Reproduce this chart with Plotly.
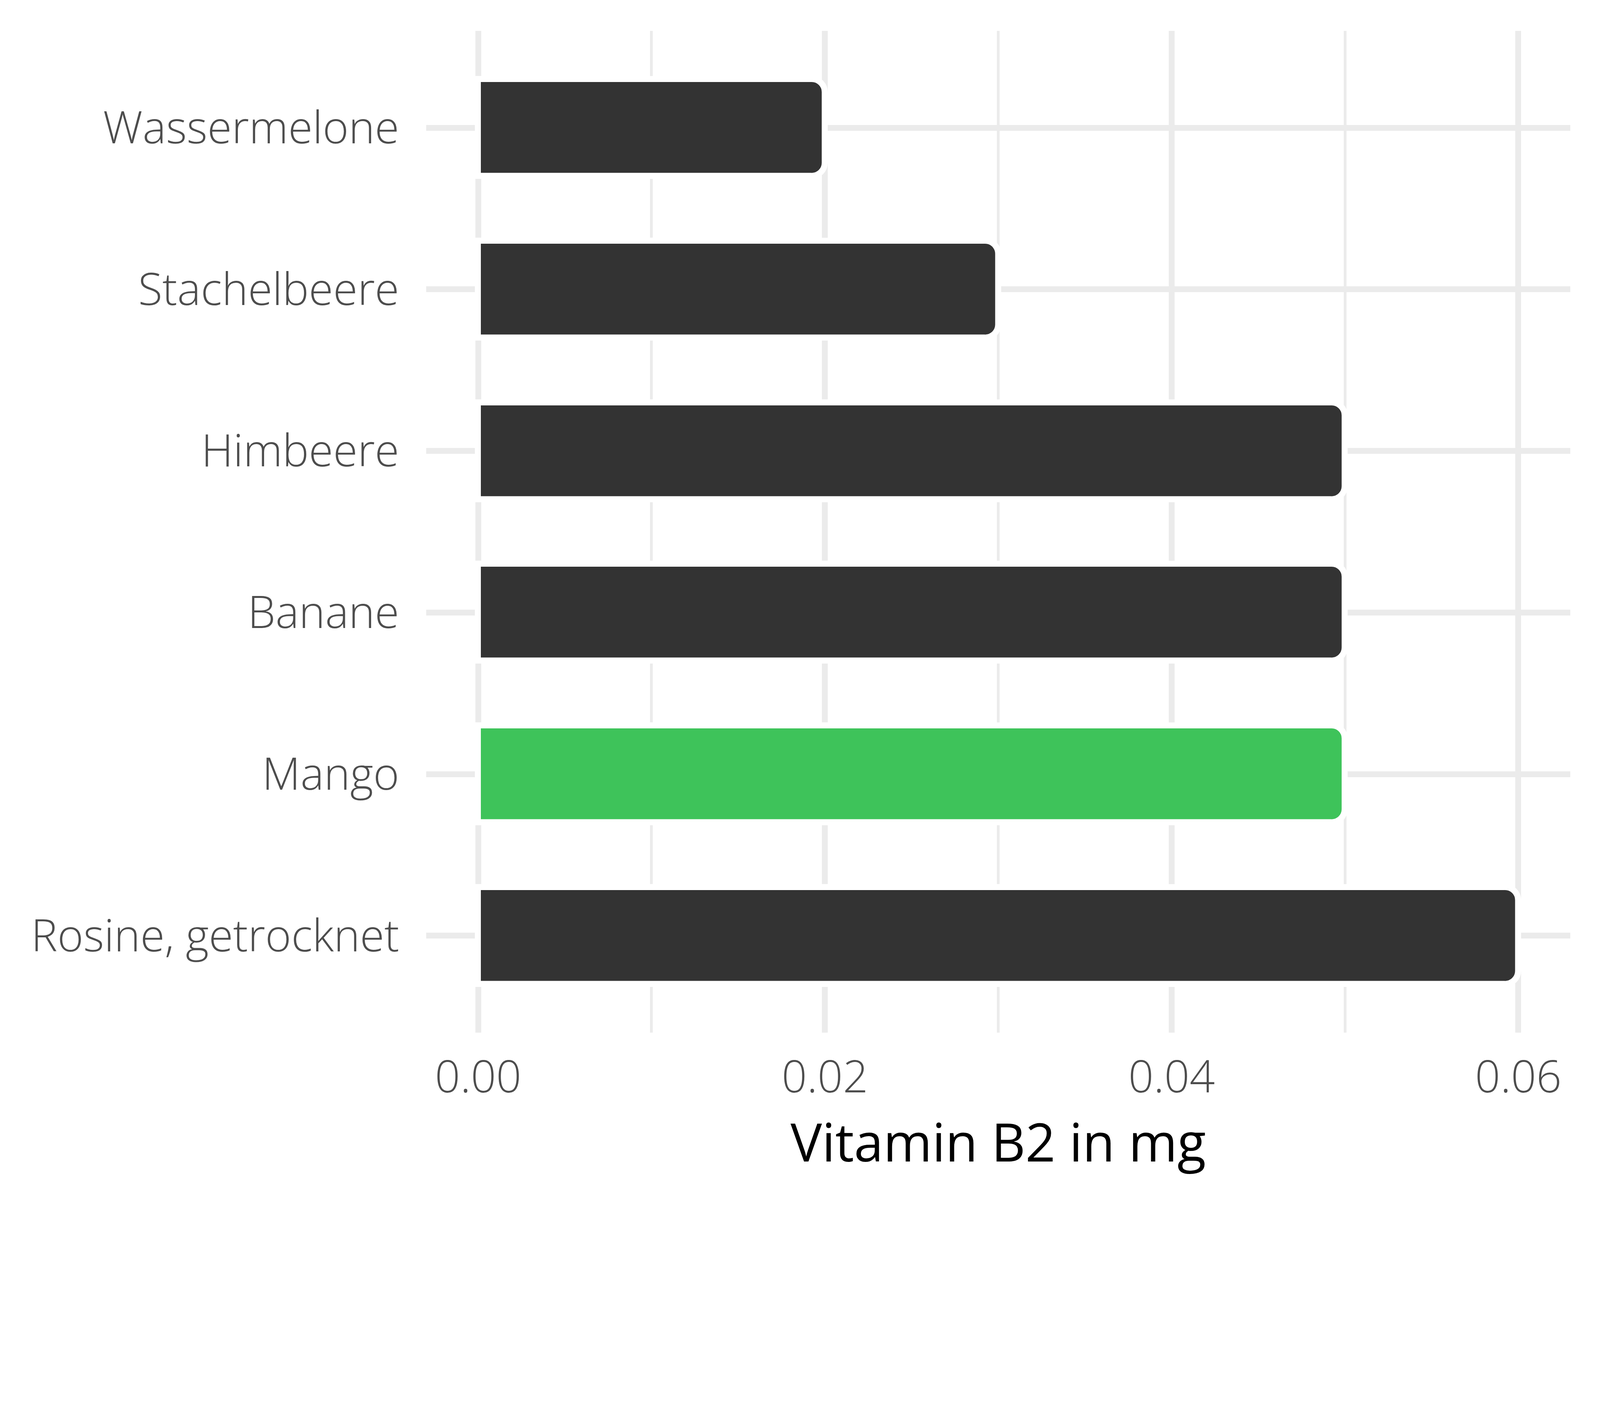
import plotly.graph_objects as go

categories = ["Wassermelone", "Stachelbeere", "Himbeere", "Banane", "Mango", "Rosine, getrocknet"]
values = [0.02, 0.03, 0.05, 0.05, 0.05, 0.06]
highlight = "Mango"
x_tickvals = [0.0, 0.02, 0.04, 0.06]
x_ticktext = ["0.00", "0.02", "0.04", "0.06"]
x_minor = [0.01, 0.03, 0.05]
x_title = "Vitamin B2 in mg"

DARK = "#333333"
GREEN = "#3EC35A"
GRID = "#EBEBEB"
FONT = "Open Sans"

# design is done in 4800x3600 reference pixels, scaled to the page's CSS pixels
K = 0.854


def s(v):
    return v * K


def si(v):
    return int(round(v * K))


colors = [GREEN if c == highlight else DARK for c in categories]

fig = go.Figure(
    go.Bar(
        x=values,
        y=categories,
        orientation="h",
        width=0.6,
        marker=dict(color=colors, line=dict(color="white", width=s(18)), cornerradius=si(40)),
        showlegend=False,
    )
)

fig.update_layout(
    width=si(4800),
    height=si(3600),
    paper_bgcolor="white",
    plot_bgcolor="white",
    margin=dict(l=si(1278), r=si(92), t=si(92), b=si(504)),
    bargap=0,
    font=dict(family=FONT),
)

fig.update_xaxes(
    range=[-0.003, 0.063],
    tickvals=x_tickvals,
    ticktext=x_ticktext,
    showgrid=True,
    gridcolor=GRID,
    gridwidth=s(17),
    zeroline=False,
    showline=False,
    ticks="",
    ticklabelstandoff=si(45),
    tickfont=dict(family=FONT, size=s(133), color="#4D4D4D", weight=300),
    minor=dict(tickvals=x_minor, showgrid=True, gridcolor=GRID, gridwidth=s(8.5), ticks=""),
    title=dict(text=x_title, font=dict(family=FONT, size=s(158), color="black", weight=400), standoff=si(16)),
)

fig.update_yaxes(
    type="category",
    categoryorder="array",
    categoryarray=categories,
    range=[5.6, -0.6],
    showgrid=True,
    gridcolor=GRID,
    gridwidth=s(17),
    zeroline=False,
    showline=False,
    ticks="",
    ticklabelstandoff=si(80),
    tickfont=dict(family=FONT, size=s(133), color="#4D4D4D", weight=300),
)

fig.write_html(
    "out.html",
    config={"displayModeBar": False},
    post_script="document.body.style.margin='0';",
)
